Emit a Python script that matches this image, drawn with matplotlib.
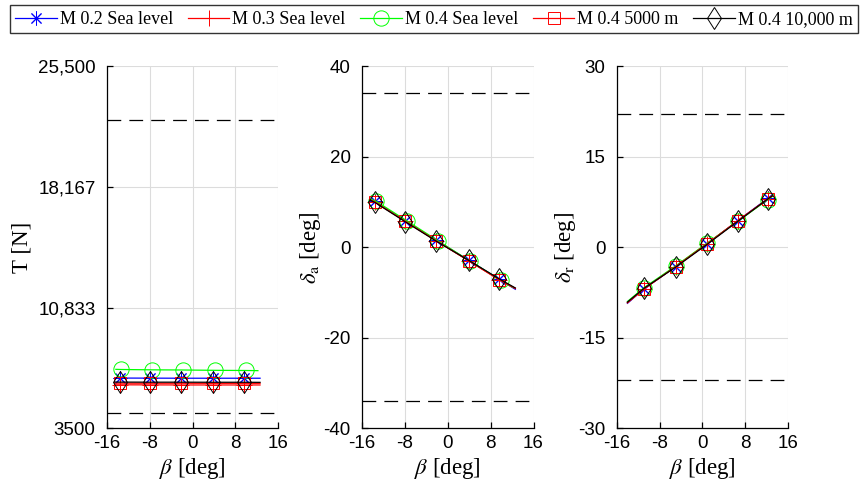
import numpy as np
import matplotlib
matplotlib.use('Agg')
from matplotlib import pyplot as plt

plt.rcParams['mathtext.fontset'] = 'stix'
plt.rcParams['font.family'] = 'Liberation Sans'
plt.rcParams['axes.unicode_minus'] = False

labels = ['M 0.2 Sea level', 'M 0.3 Sea level', 'M 0.4 Sea level', 'M 0.4 5000 m', 'M 0.4 10,000 m']
colors = ['#0000ff', '#ff0000', '#00ff00', '#ff0000', '#000000']
markers = [(8, 2, 0), '+', 'o', 's', 'd']
msizes = [10, 11, 11, 8.5, 11.5]

# beta values: line start, 5 marked points, line end
beta_ta = [-14.5, -13.6, -7.9, -2.1, 3.9, 9.6, 12.6]
beta_ta_green = [-14.3, -13.3, -7.6, -1.8, 4.2, 9.9, 12.2]
beta_r = [-14.0, -10.9, -5.0, 0.9, 6.6, 12.2, 13.0]

# thrust [N]
T_blue = [6550, 6550, 6545, 6540, 6540, 6540, 6540]
T_m03 = [6140, 6140, 6135, 6130, 6130, 6130, 6130]
T_green = [7080, 7070, 7050, 7040, 7020, 7010, 7000]
T_5000 = [6240, 6240, 6235, 6235, 6230, 6230, 6230]
T_10000 = [6310, 6305, 6300, 6300, 6295, 6295, 6290]

# aileron [deg]
da_blue = [10.6, 10.1, 5.8, 1.5, -2.9, -7.1, -9.3]
da_m03 = [10.5, 10.0, 5.7, 1.4, -3.0, -7.2, -9.1]
da_green = [10.6, 10.1, 5.8, 1.4, -3.1, -7.3, -8.9]
da_5000 = [10.5, 10.0, 5.7, 1.4, -3.0, -7.2, -9.1]
da_10000 = [10.4, 9.9, 5.6, 1.3, -2.9, -7.0, -9.0]

# rudder [deg]
dr_blue = [-9.3, -6.9, -3.2, 0.6, 4.4, 8.1, 8.6]
dr_m03 = [-9.2, -6.9, -3.2, 0.6, 4.4, 8.0, 8.5]
dr_green = [-9.0, -6.7, -3.1, 0.7, 4.3, 7.9, 8.4]
dr_5000 = [-9.2, -6.9, -3.2, 0.6, 4.4, 8.0, 8.5]
dr_10000 = [-9.1, -6.8, -3.3, 0.5, 4.3, 8.0, 8.5]

T_limits = [4400, 22200]
da_limits = [-34, 34]
dr_limits = [-22, 22]

xticks = [-16, -8, 0, 8, 16]
T_ticks = [3500, 10833, 18167, 25500]
T_ticklabels = ['3500', '10,833', '18,167', '25,500']
da_ticks = [-40, -20, 0, 20, 40]
dr_ticks = [-30, -15, 0, 15, 30]

panels = [
    (T_ticks, T_ticklabels, T_limits, 'T [N]',
     [T_blue, T_m03, T_green, T_5000, T_10000], beta_ta, beta_ta_green),
    (da_ticks, [str(v) for v in da_ticks], da_limits, r'$\delta_{\rm a}$ [deg]',
     [da_blue, da_m03, da_green, da_5000, da_10000], beta_ta, beta_ta_green),
    (dr_ticks, [str(v) for v in dr_ticks], dr_limits, r'$\delta_{\rm r}$ [deg]',
     [dr_blue, dr_m03, dr_green, dr_5000, dr_10000], beta_r, beta_r),
]

fig = plt.figure(figsize=(8.6, 4.9), dpi=100)
lefts = [0.1241, 0.4209, 0.7171]
ypads = [4, 0, 0]
handles = []
for p, (yt, ytl, lim, ylab, series, bx, bx_g) in enumerate(panels):
    ax = fig.add_axes([lefts[p], 0.126, 0.1995, 0.739])
    for i, y in enumerate(series):
        bb = bx_g if i == 2 else bx
        h, = ax.plot(bb, y, color=colors[i], lw=0.9, marker=markers[i],
                     markersize=msizes[i], markevery=[1, 2, 3, 4, 5],
                     markerfacecolor='none', markeredgewidth=0.7, label=labels[i])
        if p == 0:
            handles.append(h)
    for v in lim:
        ax.plot([-16, 16], [v, v], color='k', lw=0.9, dashes=(11, 6.5))
    ax.set_xlim(-16, 16)
    ax.set_ylim(yt[0], yt[-1])
    ax.set_xticks(xticks)
    ax.set_yticks(yt)
    ax.set_yticklabels(ytl)
    ax.grid(True, color='#dcdcdc', lw=0.8)
    ax.set_axisbelow(True)
    for s in ['top', 'right']:
        ax.spines[s].set_visible(False)
    for s in ['left', 'bottom']:
        ax.spines[s].set_linewidth(0.9)
    ax.tick_params(axis='both', labelsize=13.5, direction='in', length=4, width=0.9)
    ax.tick_params(axis='y', pad=8)
    ax.tick_params(axis='x', pad=5)
    ax.set_xlabel(r'$\beta$ [deg]', family='Liberation Serif', fontsize=16.5, labelpad=3)
    ax.set_ylabel(ylab, family='Liberation Serif', fontsize=16.5, labelpad=ypads[p])

fig.legend(handles, labels, loc='lower left', ncol=5, mode='expand',
           bbox_to_anchor=(0.0116, 0.932, 0.986, 0.062), fancybox=False,
           edgecolor='0.2', framealpha=1, borderaxespad=0,
           prop={'family': 'Liberation Serif', 'size': 13},
           handlelength=2.3, handletextpad=0.15, borderpad=0.3, columnspacing=0.6)

fig.savefig('out.png', dpi=100)
